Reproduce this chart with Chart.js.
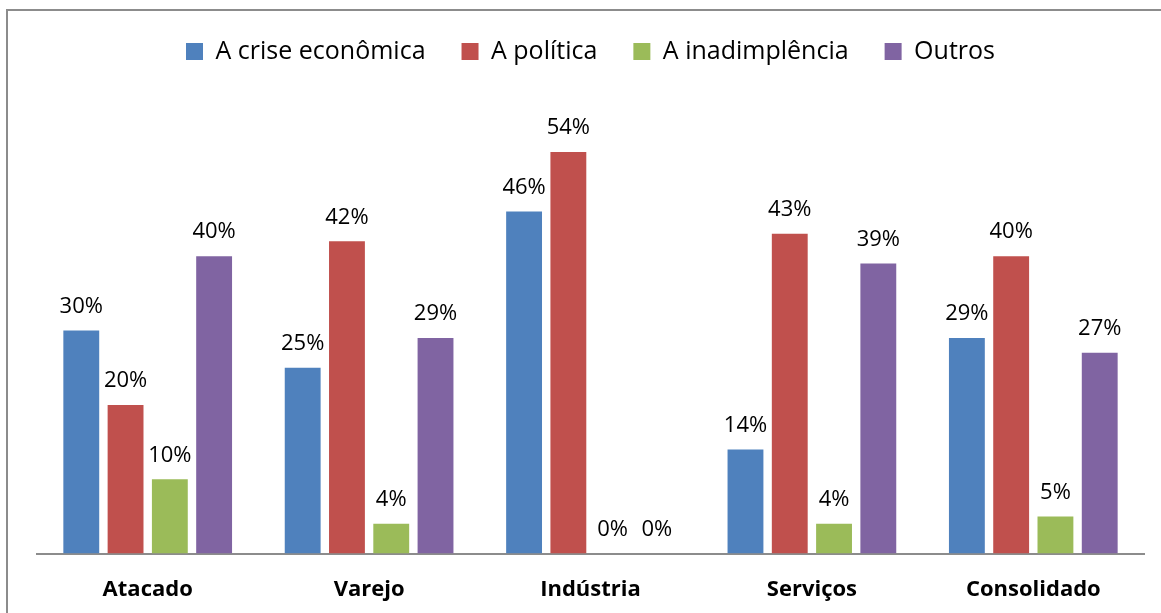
<!DOCTYPE html>
<html>
<head>
<meta charset="utf-8">
<script src="https://cdn.jsdelivr.net/npm/chart.js@4"></script>
<style>
  html, body { margin: 0; padding: 0; background: #fff; }
  #wrap { width: 1161px; height: 613px; position: relative; }
</style>
</head>
<body>
<div id="wrap"><canvas id="myChart"></canvas></div>
<script>
var setores = ['Atacado', 'Varejo', 'Indústria', 'Serviços', 'Consolidado'];
var crise = [30, 25, 46, 14, 29];
var politica = [20, 42, 54, 43, 40];
var inadimplencia = [10, 4, 0, 4, 5];
var outros = [40, 29, 0, 39, 27];

Chart.defaults.font.family = "'Open Sans', 'Liberation Sans', sans-serif";
Chart.defaults.color = '#000';

// moldura cinza (só topo e esquerda aparecem no recorte)
var moldura = {
  id: 'moldura',
  beforeDraw: function (chart) {
    var c = chart.ctx;
    c.save();
    c.strokeStyle = '#8c8c8c';
    c.lineWidth = 2;
    c.beginPath();
    c.moveTo(1161, 10);
    c.lineTo(7, 10);
    c.lineTo(7, 613);
    c.stroke();
    c.restore();
  }
};

// rótulos de valor acima das barras
var rotulos = {
  id: 'rotulos',
  afterDatasetsDraw: function (chart) {
    var c = chart.ctx;
    c.save();
    c.font = "22px 'Open Sans', 'Liberation Sans', sans-serif";
    c.fillStyle = '#000';
    c.textAlign = 'center';
    c.textBaseline = 'bottom';
    chart.data.datasets.forEach(function (ds, i) {
      chart.getDatasetMeta(i).data.forEach(function (bar, j) {
        c.fillText(ds.data[j] + '%', bar.x, bar.y - 13);
      });
    });
    c.restore();
  }
};

new Chart(document.getElementById('myChart'), {
  type: 'bar',
  data: {
    labels: setores,
    datasets: [
      { label: 'A crise econômica', data: crise, backgroundColor: '#4F81BD' },
      { label: 'A política', data: politica, backgroundColor: '#C0504D' },
      { label: 'A inadimplência', data: inadimplencia, backgroundColor: '#9BBB59' },
      { label: 'Outros', data: outros, backgroundColor: '#8064A2' }
    ]
  },
  options: {
    responsive: true,
    maintainAspectRatio: false,
    animation: false,
    layout: { padding: { left: 37, right: 17, top: 3, bottom: -13 } },
    datasets: {
      bar: { barPercentage: 0.81, categoryPercentage: 0.8 }
    },
    plugins: {
      legend: {
        position: 'top',
        labels: {
          boxWidth: 17,
          boxHeight: 17,
          padding: 36,
          font: { size: 25 }
        }
      },
      tooltip: { enabled: false }
    },
    scales: {
      x: {
        grid: { display: false, drawTicks: false },
        border: { display: true, color: '#8c8c8c', width: 2 },
        ticks: { padding: 23, font: { size: 22, weight: 'bold' } }
      },
      y: {
        display: false,
        min: 0,
        max: 64.5
      }
    }
  },
  plugins: [moldura, rotulos]
});
</script>
</body>
</html>
